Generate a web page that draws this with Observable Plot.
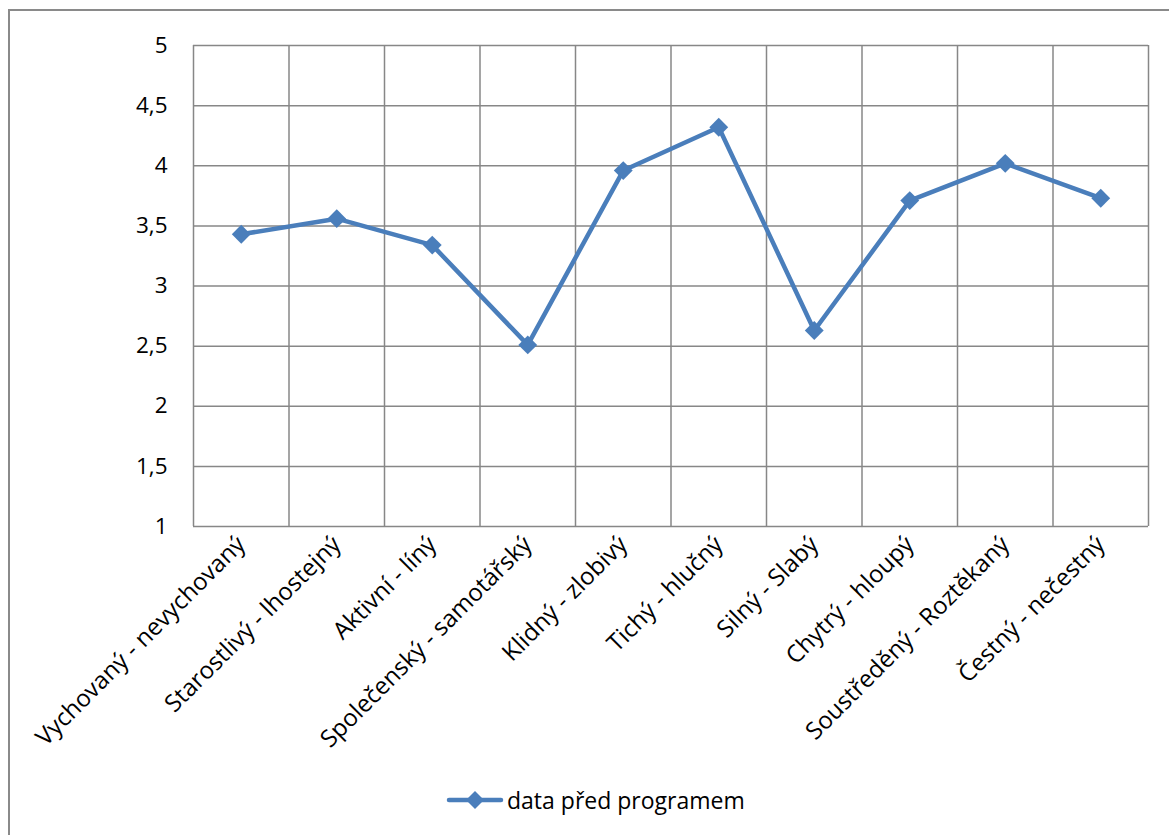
<!DOCTYPE html>
<html>
<head>
<meta charset="utf-8">
<script src="https://cdn.jsdelivr.net/npm/d3@7"></script>
<script src="https://cdn.jsdelivr.net/npm/@observablehq/plot@0.6"></script>
<style>
  html, body { margin: 0; padding: 0; background: #fff; }
  #wrap { position: relative; width: 1169px; height: 835px; overflow: hidden; font-family: "Open Sans", sans-serif; }
  #frame { position: absolute; left: 8px; top: 9px; width: 1300px; height: 1000px; border: 2px solid #8a8a8a; box-sizing: border-box; }
  #chart { position: absolute; left: 0; top: 0; }
  #legend { position: absolute; left: 446px; top: 776px; height: 48px; display: flex; align-items: center; font-size: 23px; color: #000; }
  #legend svg { margin-right: 3px; }
</style>
</head>
<body>
<div id="wrap">
  <div id="frame"></div>
  <div id="chart"></div>
  <div id="legend"></div>
</div>
<script>
const categories = [
  "Vychovaný - nevychovaný",
  "Starostlivý - lhostejný",
  "Aktivní - líný",
  "Společenský - samotářský",
  "Klidný - zlobivý",
  "Tichý - hlučný",
  "Silný - Slabý",
  "Chytrý - hloupý",
  "Soustředěný - Roztěkaný",
  "Čestný - nečestný"
];
const values = [3.43, 3.56, 3.34, 2.51, 3.96, 4.32, 2.63, 3.71, 4.02, 3.73];
const yTicks = [1, 1.5, 2, 2.5, 3, 3.5, 4, 4.5, 5];
const seriesName = "data před programem";
const color = "#4a7ebb";
const gridColor = "#878787";

const data = categories.map((c, i) => ({cat: c, pos: i + 0.5, value: values[i]}));
const xBounds = d3.range(categories.length + 1);

const chart = Plot.plot({
  width: 1169,
  height: 776,
  marginLeft: 193,
  marginRight: 21,
  marginTop: 45,
  marginBottom: 250,
  style: {fontFamily: "Open Sans, sans-serif", fontSize: "22px", color: "#000", background: "transparent"},
  x: {type: "linear", domain: [0, categories.length]},
  y: {domain: [1, 5]},
  marks: [
    Plot.ruleY(yTicks, {stroke: gridColor, strokeWidth: 1.5}),
    Plot.ruleX(xBounds, {stroke: gridColor, strokeWidth: 1.5}),
    Plot.axisY({ticks: yTicks, tickSize: 0, tickPadding: 26, tickFormat: d => String(d).replace(".", ","), label: null, fontSize: 22.5}),
    Plot.axisX({ticks: data.map(d => d.pos), tickSize: 0, tickPadding: 14, tickRotate: -45, tickFormat: p => categories[Math.floor(p)], label: null, fontSize: 24}),
    Plot.line(data, {x: "pos", y: "value", stroke: color, strokeWidth: 4.5, strokeLinejoin: "round"}),
    Plot.dot(data, {x: "pos", y: "value", symbol: "diamond2", r: 8.5, fill: color, stroke: "none"})
  ]
});
document.getElementById("chart").appendChild(chart);

const legend = document.getElementById("legend");
legend.innerHTML = `<svg width="58" height="20"><line x1="3" y1="10" x2="55" y2="10" stroke="${color}" stroke-width="4.5" stroke-linecap="round"/><path d="M29,1 L38,10 L29,19 L20,10 Z" fill="${color}"/></svg><span>${seriesName}</span>`;
</script>
</body>
</html>
